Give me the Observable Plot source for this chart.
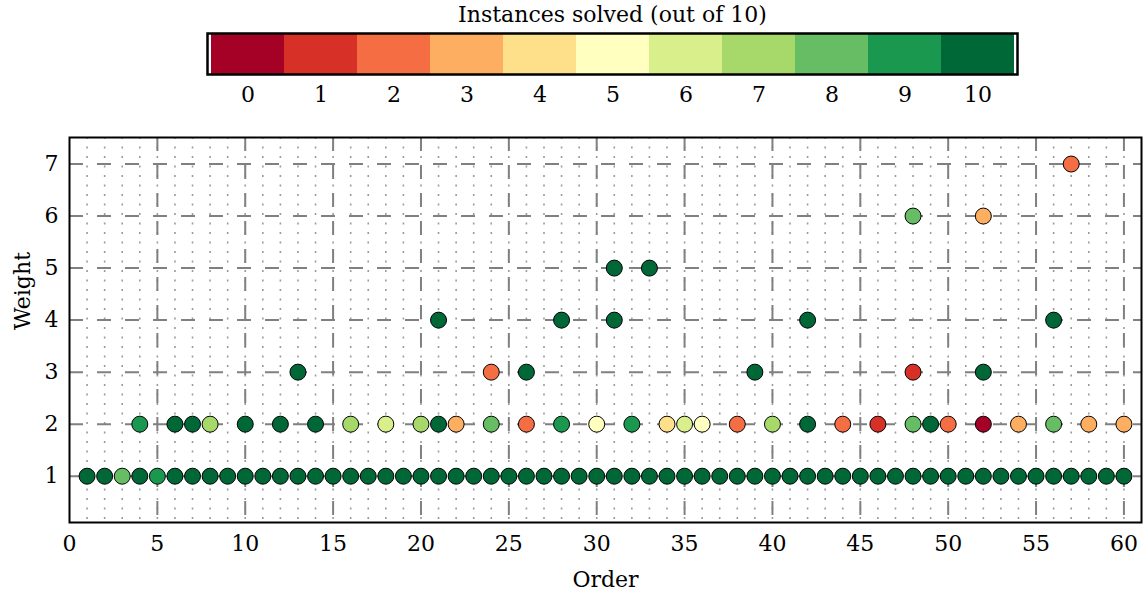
<!DOCTYPE html>
<html><head><meta charset="utf-8">
<script src="https://cdn.jsdelivr.net/npm/d3@7"></script>
<script src="https://cdn.jsdelivr.net/npm/@observablehq/plot@0.6"></script>
<style>
body{margin:0;background:#fff;}
#wrap{position:relative;width:1144px;height:594px;font-family:"DejaVu Serif",serif;background:#fff;}
#cb{position:absolute;left:0;top:0;}
#main{position:absolute;left:0;top:110px;}
</style></head><body><div id="wrap"><div id="cb"></div><div id="main"></div></div>
<script>
// ---- data ----
const levels = [0,1,2,3,4,5,6,7,8,9,10];
const palette = ["#a50026","#d73027","#f46d43","#fdae61","#fee08b","#ffffbf","#d9ef8b","#a6d96a","#66bd63","#1a9850","#006837"];
const colorbarTitle = "Instances solved (out of 10)";
const xTicks = [0,5,10,15,20,25,30,35,40,45,50,55,60];
const yTicks = [1,2,3,4,5,6,7];
const minorX = d3.range(1,61);

// weight 1: orders 1..60
const w1Solved = [10,10,8,10,9,10,10,10,10,10, 10,10,10,10,10,10,10,10,10,10,
                  10,10,10,10,10,10,10,10,10,10, 10,10,10,10,10,10,10,10,10,10,
                  10,10,10,10,10,10,10,10,10,10, 10,10,10,10,10,10,10,10,10,10];
const w2Orders = [4,6,7,8,10,12,14,16,18,20,21,22,24,26,28,30,32,34,35,36,38,40,42,44,46,48,49,50,52,54,56,58,60];
const w2Solved = [9,10,10,7,10,10,10,7,6,7,10,3,8,2,9,5,9,4,6,5,2,7,10,2,1,8,10,2,0,3,8,3,3];
const w3Orders = [13,24,26,39,48,52];
const w3Solved = [10,2,10,10,1,10];
const w4Orders = [21,28,31,42,56];
const w4Solved = [10,10,10,10,10];
const w5Orders = [31,33];
const w5Solved = [10,10];
const w6Orders = [48,52];
const w6Solved = [8,3];
const w7Orders = [57];
const w7Solved = [2];

const points = [];
w1Solved.forEach((s,i)=>points.push({order:i+1, weight:1, solved:s}));
[[2,w2Orders,w2Solved],[3,w3Orders,w3Solved],[4,w4Orders,w4Solved],[5,w5Orders,w5Solved],[6,w6Orders,w6Solved],[7,w7Orders,w7Solved]]
  .forEach(([w,os,ss])=>os.forEach((o,i)=>points.push({order:o, weight:w, solved:ss[i]})));

const font = "DejaVu Serif";
const fs = 22;

// ---- colorbar ----
const cb = Plot.plot({
  width:1144, height:110, marginLeft:207, marginRight:127, marginTop:33, marginBottom:36,
  style:{fontFamily:font, fontSize:fs+"px", background:"white", color:"black"},
  x:{type:"band", domain:levels, padding:0, tickSize:0, tickPadding:12, label:null},
  color:{type:"ordinal", domain:levels, range:palette},
  marks:[
    Plot.cell(levels, {x:d=>d, fill:d=>d}),
    Plot.frame({stroke:"black", strokeWidth:2.5}),
    Plot.text([colorbarTitle], {text:d=>d, frameAnchor:"top", lineAnchor:"middle", dy:-19, fontSize:fs, fill:"black"})
  ]
});
document.getElementById("cb").appendChild(cb);

// ---- main chart ----
const main = Plot.plot({
  width:1144, height:484, marginLeft:69, marginRight:3, marginTop:27, marginBottom:72,
  style:{fontFamily:font, fontSize:fs+"px", background:"white", color:"black"},
  x:{domain:[0,61], ticks:xTicks, tickSize:0, tickPadding:13, tickFormat:d=>String(d), label:null},
  y:{domain:[0.11,7.51], ticks:yTicks, tickSize:0, tickPadding:11, tickFormat:d=>String(d), label:null},
  color:{type:"ordinal", domain:levels, range:palette},
  marks:[
    Plot.ruleX(minorX, {stroke:"#9a9a9a", strokeWidth:1.6, strokeDasharray:"2,7.5"}),
    Plot.ruleY(yTicks, {stroke:"#808080", strokeWidth:2, strokeDasharray:"14,14"}),
    Plot.ruleX(xTicks.filter(d=>d>0), {stroke:"#808080", strokeWidth:2, strokeDasharray:"14,14"}),
    Plot.dot(points, {x:"order", y:"weight", fill:"solved", r:8, stroke:"black", strokeWidth:1}),
    Plot.frame({stroke:"black", strokeWidth:2}),
    Plot.text(["Order"], {text:d=>d, frameAnchor:"bottom", lineAnchor:"middle", dy:57, fontSize:fs, fill:"black"}),
    Plot.text(["Weight"], {text:d=>d, frameAnchor:"left", lineAnchor:"middle", dx:-47, rotate:-90, fontSize:fs, fill:"black"})
  ]
});
document.getElementById("main").appendChild(main);
</script>
</body></html>
